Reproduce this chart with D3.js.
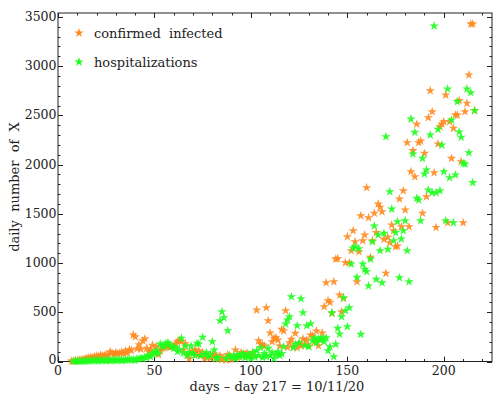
<!DOCTYPE html>
<html><head><meta charset="utf-8">
<script src="https://cdn.jsdelivr.net/npm/d3@7"></script>
<style>
body{margin:0;background:#fff;}
text{font-family:"DejaVu Serif","Liberation Serif",serif;fill:#222;}
</style></head>
<body><svg id="c" width="494" height="398"></svg>
<script>
const seriesNames = ["confirmed  infected", "hospitalizations"];
const seriesColors = ["#ff8a1f", "#1eff1e"];
const confirmedStart = 7;
const confirmed = [
 5,6,10,12,14,18,20,28,32,38,
 42,40,50,55,48,65,58,62,70,60,
 100,85,72,90,78,85,95,80,110,88,
 120,115,270,250,130,170,125,210,230,135,
 100,118,165,85,150,70,110,130,140,150,
 160,145,150,155,178,200,215,205,117,180,
 70,30,95,90,120,70,110,60,90,30,
 45,55,35,50,75,40,25,60,20,32,
 15,70,50,20,45,117,40,55,90,60,
 75,85,50,70,90,60,523,211,178,170,
 157,547,415,290,201,236,242,218,157,327,
 310,516,144,191,225,150,286,140,185,160,
 230,178,218,157,270,259,200,310,160,218,
 290,557,800,618,601,490,811,1040,1045,675,
 506,640,1004,1268,1004,1126,1329,1217,811,1115,
 1481,1227,1285,1766,1461,1058,1227,1506,1309,1600,
 1567,1522,1241,896,1262,1207,1387,1329,1166,1173,
 1651,1369,1735,1539,2223,1369,1928,2142,1877,2410,
 2223,2240,1506,2115,1674,2477,2751,2538,1918,1362,
 2210,2385,2413,2436,2707,1410,2436,2064,2369,2504,
 2504,2650,2030,1410,2538,2623,2911,3429,3429,2548
];
const hospStart = 8;
const hospitalized = [
 2,3,4,5,3,6,5,8,6,10,
 8,12,10,6,14,10,12,8,15,10,
 12,18,8,14,20,10,15,12,18,25,
 15,20,12,28,25,35,30,45,40,60,
 50,75,90,110,83,178,160,150,185,191,
 168,150,134,144,100,120,236,85,157,60,
 90,157,80,60,185,178,60,246,70,90,
 50,70,201,117,30,40,415,506,445,30,
 313,60,40,55,30,70,45,60,80,40,
 50,70,30,90,45,110,60,140,40,80,
 50,134,60,90,30,70,100,60,80,150,
 381,422,455,658,140,175,364,191,638,496,
 160,364,150,384,210,240,190,230,220,240,
 200,240,110,150,496,49,175,337,279,455,
 648,516,354,547,990,1150,1166,855,1146,276,
 990,937,912,767,1041,1217,1377,835,1285,1126,
 800,1302,2284,1140,1725,1549,1227,1309,1420,851,
 1245,1329,1430,1126,811,2463,2108,2328,1658,1641,
 1430,2064,1905,1946,1742,2301,1715,3408,1715,2359,
 1735,2199,1928,1430,2768,1867,2453,1410,1895,2640,
 2332,2278,2013,2006,2768,2121,2731,1817,2548
];
const xTicks = [0,50,100,150,200];
const yTicks = [0,500,1000,1500,2000,2500,3000,3500];
const xLabel = "days \u2013 day 217 = 10/11/20";
const yLabel = "daily  number  of  X";

const svg = d3.select("#c");
const L=58, R=492, T=13, B=361.5;
const x = d3.scaleLinear().domain([0,225]).range([L,R]);
const y = d3.scaleLinear().domain([0,3540]).range([B,T]);

const frame = svg.append("g").attr("stroke","#222").attr("stroke-width",1).attr("fill","none");
frame.append("rect").attr("x",L).attr("y",T).attr("width",R-L).attr("height",B-T);

const xMinor = d3.range(0,226,10).filter(v=>v%50!==0);
const yMinor = d3.range(0,3541,100).filter(v=>v%500!==0);
const tk = svg.append("g").attr("stroke","#222").attr("stroke-width",1);
xTicks.forEach(v=>{const px=Math.round(x(v))+0.5;
  tk.append("line").attr("x1",px).attr("x2",px).attr("y1",B).attr("y2",B-5);
  tk.append("line").attr("x1",px).attr("x2",px).attr("y1",T).attr("y2",T+5);});
xMinor.forEach(v=>{const px=Math.round(x(v))+0.5;
  tk.append("line").attr("x1",px).attr("x2",px).attr("y1",B).attr("y2",B-2.5);
  tk.append("line").attr("x1",px).attr("x2",px).attr("y1",T).attr("y2",T+2.5);});
yTicks.forEach(v=>{const py=Math.round(y(v))+0.5;
  tk.append("line").attr("x1",L).attr("x2",L+5).attr("y1",py).attr("y2",py);
  tk.append("line").attr("x1",R).attr("x2",R-5).attr("y1",py).attr("y2",py);});
yMinor.forEach(v=>{const py=Math.round(y(v))+0.5;
  tk.append("line").attr("x1",L).attr("x2",L+2.5).attr("y1",py).attr("y2",py);
  tk.append("line").attr("x1",R).attr("x2",R-2.5).attr("y1",py).attr("y2",py);});

svg.append("g").selectAll("text").data(xTicks).join("text")
  .attr("x",d=>x(d)).attr("y",B+13.5).attr("text-anchor","middle")
  .attr("font-size",12.5).text(d=>d);
svg.append("g").selectAll("text").data(yTicks).join("text")
  .attr("x",L-1.5).attr("y",d=>y(d)+(d===0?2.5:4)).attr("text-anchor","end")
  .attr("font-size",12.5).text(d=>d);

svg.append("text").attr("x",277).attr("y",391).attr("text-anchor","middle")
  .attr("font-size",13).attr("xml:space","preserve").style("white-space","pre").text(xLabel);
svg.append("text").attr("transform","translate(19,187) rotate(-90)").attr("text-anchor","middle")
  .attr("font-size",13).attr("xml:space","preserve").style("white-space","pre").text(yLabel);

const star = d3.symbol().type(d3.symbolStar).size(27);
const data = [
  confirmed.map((v,i)=>[confirmedStart+i,v]),
  hospitalized.map((v,i)=>[hospStart+i,v])
];
data.forEach((s,k)=>{
  svg.append("g").selectAll("path").data(s).join("path")
    .attr("d",star).attr("transform",d=>`translate(${x(d[0])},${y(d[1])})`)
    .attr("fill",seriesColors[k]).attr("fill-opacity",0.9);
});

const lg = svg.append("g");
seriesNames.forEach((n,k)=>{
  const cy = 33 + k*29;
  lg.append("path").attr("d",star).attr("transform",`translate(79,${cy})`).attr("fill",seriesColors[k]);
  lg.append("text").attr("x",94).attr("y",cy+4.5).attr("font-size",13)
    .attr("xml:space","preserve").style("white-space","pre").text(n);
});
</script></body></html>
